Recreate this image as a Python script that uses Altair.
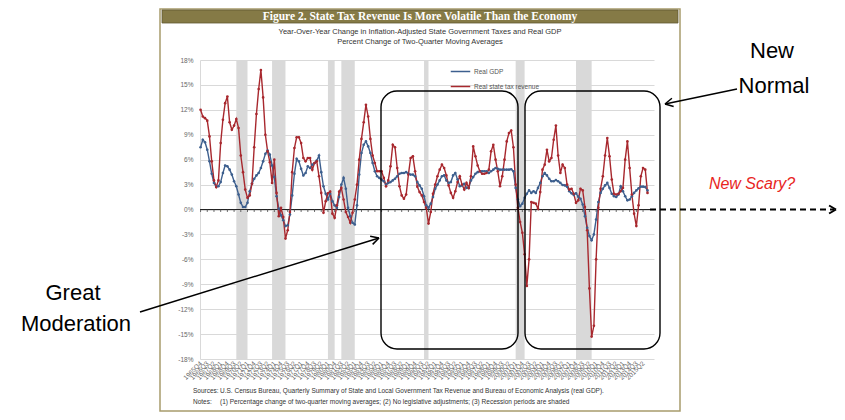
import math
import altair as alt
import pandas as pd

# ---------------- data ----------------
FIRST_YEAR, FIRST_Q = 1965, 4          # first quarter shown: 1965Q4

real_gdp = [
    7.5, 8.4, 8.1, 7.2, 5.8, 4.3, 3.2, 2.75, 2.8, 3.3,
    4.4, 5.3, 5.2, 4.8, 4.2, 3.4, 2.8, 1.8, 0.8, 0.3,
    0.3, 0.8, 2.2, 3.1, 3.7, 4.1, 4.4, 5.0, 5.8, 6.7,
    7.1, 6.6, 5.3, 3.9, 1.6, 0.1, -0.7, -1.3, -2.0, -1.9,
    -0.6, 1.7, 4.3, 6.1, 5.8, 4.9, 4.1, 4.4, 5.2,
    5.0, 5.4, 5.6, 5.9, 6.5, 4.5, 2.8, 1.9, 1.2, 1.9,
    1.0, 0.5, 0.2, 1.5, 3.0, 3.8, 2.5, 0.2, -0.8, -1.6,
    -1.8, 0.5, 4.2, 6.8, 7.8, 8.2, 7.6, 6.8, 5.6, 4.6,
    4.0, 3.8, 3.6, 3.4, 3.0, 3.2, 3.3, 3.5, 3.7, 4.0,
    4.3, 4.4, 4.4, 4.5, 4.3, 4.2, 4.2, 4.0,
    3.3, 2.9, 2.5, 1.6, 0.5, 0.2, 0.7, 1.5, 2.5, 3.0,
    3.5, 4.0, 4.1, 3.5, 3.2, 3.3, 4.1, 4.4, 3.6, 2.8,
    2.9, 3.1, 2.6, 2.6, 3.5, 3.9, 4.3, 4.5, 4.6, 4.6,
    4.6, 4.6, 4.4, 4.6, 4.8, 5.0, 4.9, 4.8, 4.8, 4.8,
    4.8, 4.8, 4.85, 4.6,
    2.6, 1.2, 0.4, 0.7, 1.4, 1.9, 2.3, 2.0, 2.2, 2.0,
    2.6, 3.2, 4.0, 4.4, 4.1, 3.7, 3.4, 3.4, 3.55, 3.4,
    3.2, 2.95, 2.9, 2.75, 2.2, 1.95, 1.75, 1.95, 1.55, 1.3,
    0.6, -0.8, -2.2, -3.2, -3.7, -3.0, -1.2, 0.9, 2.0, 2.5,
    2.9, 3.2, 2.6, 1.9, 1.6, 1.5, 1.8, 2.8, 2.2, 1.6,
    1.1, 1.2, 1.6, 2.0, 2.3, 2.55, 2.75, 2.75, 2.7, 2.3,
]

state_tax = [
    12.0, 11.2, 11.0, 10.7, 8.8, 5.8, 3.5, 2.7, 3.5, 8.0,
    10.8, 12.8, 13.6, 10.5, 9.6, 10.1, 10.9, 9.8, 6.5, 4.5,
    2.4, 1.4, 1.7, 3.1, 7.5, 11.5, 14.5, 16.8, 13.5, 9.0,
    7.0, 5.7, 3.2, 6.0, 2.0, -0.8, 0.2, -0.9, -3.5, -2.5,
    -0.3, 4.5, 7.4, 8.7, 8.7, 8.0, 6.2, 5.8, 6.2,
    6.2, 4.8, 5.6, 5.8, 4.0, 2.0, -0.4, 1.0, 1.95, 2.15,
    -0.5, -1.0, 0.5, 2.15, 2.6, 1.2, -0.3, -0.9, -1.6, -0.4,
    1.2, 3.0, 6.0, 8.5, 10.5, 12.6, 11.2, 8.5, 6.5, 5.6,
    4.6, 4.6, 4.6, 3.8, 2.8, 3.5, 5.2, 7.8, 7.5, 5.0,
    2.8, 1.7, 1.3, 1.8, 4.2, 6.2, 6.4, 4.6,
    2.75, 2.1, 1.7, 0.9, 0.2, -1.7, -0.3, 1.9, 3.0, 4.0,
    4.8, 5.4, 5.0, 4.1, 2.9, 2.0, 1.4, 2.2, 3.3, 4.0,
    3.0, 2.4, 3.2, 2.6, 4.0, 7.6, 6.4, 5.3, 4.6, 4.3,
    4.3, 4.4, 4.8, 7.0, 7.8, 6.0, 4.6, 2.8, 4.0, 6.0,
    8.2, 9.2, 9.5, 7.5,
    3.0, 0.2, -1.5, -2.8, -5.4, -9.2, -6.0, 0.9, 0.8, 0.7,
    0.1, 2.1, 4.8, 5.4, 7.2, 5.8, 6.2, 8.4, 10.1, 6.5,
    4.4, 5.4, 5.0, 3.0, 2.4, 2.5, 1.9, 0.8, 1.1, 2.5,
    2.3, 0.3, -2.5, -9.5, -15.3, -14.0, -6.0, 0.2, 2.5, 4.0,
    6.5, 8.6, 6.4, 3.6, 1.9, 1.8, 1.9, 2.2, 2.6, 6.0,
    8.2, 5.0, 1.8, -0.5, -2.0, 0.5, 4.0, 5.0, 4.8, 2.0,
]

series_names = ["Real GDP", "Real state tax revenue"]
series_colors = ["#3D5F8E", "#A8282E"]

recessions = [("1969Q4", "1970Q4"), ("1973Q4", "1975Q1"), ("1980Q1", "1980Q3"),
              ("1981Q3", "1982Q4"), ("1990Q4", "1991Q1"), ("2001Q1", "2001Q4"),
              ("2007Q4", "2009Q2")]

y_ticks = list(range(-18, 19, 3))
LABEL_STEP = 3

# ---------------- derived tables ----------------
n = len(real_gdp)
quarters = []
yy, qq = FIRST_YEAR, FIRST_Q
for _ in range(n):
    quarters.append(f"{yy}Q{qq}")
    qq += 1
    if qq > 4:
        qq, yy = 1, yy + 1
qidx = {s: i for i, s in enumerate(quarters)}

rows = []
for name, vals in zip(series_names, [real_gdp, state_tax]):
    for i, v in enumerate(vals):
        rows.append({"i": i, "quarter": quarters[i], "series": name, "value": v})
df = pd.DataFrame(rows)

rec_df = pd.DataFrame({"s": [qidx[a] for a, b in recessions],
                       "e": [qidx[b] + 1 for a, b in recessions]})
x_tick_idx = list(range(0, n, LABEL_STEP))
tick_df = pd.DataFrame({"i": x_tick_idx, "v": [0] * len(x_tick_idx)})
zero_df = pd.DataFrame({"v": [0]})
one = pd.DataFrame({"a": [0]})

W, H = 454, 299
x_scale = alt.Scale(domain=[-0.25, 202.9], nice=False, zero=False)
y_scale = alt.Scale(domain=[-18, 18], nice=False)

off = (FIRST_Q - 1)
label_expr = (f"({FIRST_YEAR} + floor((datum.value + {off}) / 4)) + 'Q' + "
              f"((datum.value + {off}) % 4 + 1)")

x_axis = alt.Axis(values=x_tick_idx, labelExpr=label_expr, labelAngle=-45,
                  labelAlign="right", labelBaseline="middle",
                  labelFontSize=6.5, labelColor="#666666", labelFont="Liberation Sans",
                  grid=False, ticks=False, domain=False, labelPadding=3,
                  labelOverlap=False, labelBound=False, labelFlush=False, title=None)
y_axis = alt.Axis(values=y_ticks, labelExpr="datum.value + '%'", grid=True,
                  gridColor="#D9D9D9", gridWidth=1, domainColor="#D9D9D9",
                  ticks=False, labelFontSize=6.5, labelColor="#666666",
                  labelFont="Liberation Sans", labelPadding=7, title=None,
                  labelOverlap=False, labelFlush=False, labelBound=False)

# ---------------- annotation helpers (pixel positions) ----------------
def seg(x1, y1, x2, y2, color="black", width=1.5, dash=None):
    kw = dict(color=color, strokeWidth=width)
    if dash:
        kw["strokeDash"] = dash
    return alt.Chart(one).mark_rule(**kw).encode(
        x=alt.value(x1), y=alt.value(y1), x2=alt.value(x2), y2=alt.value(y2))

def arrow_head(x0, y0, x1, y1, length=9, angle=28, color="black", width=1.5):
    dx, dy = x1 - x0, y1 - y0
    L = math.hypot(dx, dy)
    bx, by = -dx / L, -dy / L
    out = []
    for sgn in (1, -1):
        a = math.radians(angle) * sgn
        rx = bx * math.cos(a) - by * math.sin(a)
        ry = bx * math.sin(a) + by * math.cos(a)
        out.append(seg(x1, y1, x1 + rx * length, y1 + ry * length, color, width))
    return out

def label(txt, x, y, size, color="black", font="Liberation Sans", weight="normal",
          style="normal", align="center", baseline="middle"):
    return alt.Chart(one).mark_text(text=txt, fontSize=size, color=color, font=font,
                                    fontWeight=weight, fontStyle=style, align=align,
                                    baseline=baseline).encode(
        x=alt.value(x), y=alt.value(y))

def box(x1, y1, x2, y2, stroke="black", width=1.4, radius=0, fill=None):
    kw = dict(stroke=stroke, strokeWidth=width, cornerRadius=radius)
    if fill:
        kw["fill"] = fill
    else:
        kw["fillOpacity"] = 0
    return alt.Chart(one).mark_rect(**kw).encode(
        x=alt.value(x1), y=alt.value(y1), x2=alt.value(x2), y2=alt.value(y2))

# ---------------- layers ----------------
frame = box(-40, -51, 480, 351, stroke="#A89C6C", width=1.5)
title_bar = box(-38, -50, 478, -37, stroke="#5F5830", width=0.8, fill="#857A46")
title_txt = label("Figure 2. State Tax Revenue Is More Volatile Than the Economy",
                  220, -43.5, 11.5, color="white", font="Liberation Serif", weight="bold")
sub1 = label("Year-Over-Year Change in Inflation-Adjusted State Government Taxes and Real GDP",
             220, -28, 7.5, color="#333333")
sub2 = label("Percent Change of Two-Quarter Moving Averages", 220, -18, 7.5, color="#333333")

rec = alt.Chart(rec_df).mark_rect(color="#D9D9D9").encode(
    x=alt.X("s:Q", scale=x_scale, axis=x_axis), x2="e:Q",
    y=alt.value(0), y2=alt.value(H))

zero_rule = alt.Chart(zero_df).mark_rule(color="#222222", strokeWidth=1.2).encode(
    y=alt.Y("v:Q", scale=y_scale, axis=y_axis))
zero_ticks = alt.Chart(tick_df).mark_tick(orient="vertical", size=3, thickness=1,
                                          color="#333333", yOffset=1).encode(
    x=alt.X("i:Q", scale=x_scale, axis=x_axis),
    y=alt.Y("v:Q", scale=y_scale, axis=y_axis))

lines = alt.Chart(df).mark_line(
    strokeWidth=1.4,
    point=alt.OverlayMarkDef(size=7, filled=True, opacity=1)).encode(
    x=alt.X("i:Q", scale=x_scale, axis=x_axis),
    y=alt.Y("value:Q", scale=y_scale, axis=y_axis),
    color=alt.Color("series:N",
                    scale=alt.Scale(domain=series_names, range=series_colors),
                    legend=alt.Legend(orient="none", legendX=250, legendY=1, title=None,
                                      symbolType="stroke", symbolStrokeWidth=1.5,
                                      symbolSize=380, labelFontSize=6.5,
                                      labelColor="#555555", labelFont="Liberation Sans",
                                      rowPadding=1, labelOffset=3)),
    order="i:Q")

sources = label("Sources:", -7, 331, 6.5, color="#333333", align="left")
sources2 = label("U.S. Census Bureau, Quarterly Summary of State and Local Government Tax "
                 "Revenue and Bureau of Economic Analysis (real GDP).", 20, 331, 6.5,
                 color="#333333", align="left")
notes = label("Notes:", -7, 342, 6.5, color="#333333", align="left")
notes2 = label("(1) Percentage change of two-quarter moving averages; (2) No legislative "
               "adjustments; (3) Recession periods are shaded", 20, 342, 6.5,
               color="#333333", align="left")

box1 = box(181, 31, 318, 289, radius=16)
box2 = box(325, 31, 460, 289, radius=16)

new_txt = label("New", 572, -9, 22)
normal_txt = label("Normal", 574, 26, 22)
nn_arrow = [seg(537, 29, 465, 44, width=1.5)] + arrow_head(537, 29, 465, 44)

scary = label("New Scary?", 552, 124, 16, color="#E8251E", style="italic")
dash_arrow = seg(450, 149.5, 634, 149.5, width=2, dash=[6, 4])
dash_head = arrow_head(450, 149.5, 636, 149.5, length=8, angle=30, width=2)

great = label("Great", -127, 233, 22)
moder = label("Moderation", -124, 264, 22)
gm_arrow = [seg(-60, 252, 179, 178, width=1.5)] + arrow_head(-60, 252, 179, 178)

layers = [frame, title_bar, title_txt, sub1, sub2, rec, zero_rule, zero_ticks, lines,
          sources, sources2, notes, notes2, box1, box2, new_txt, normal_txt, scary,
          dash_arrow, great, moder] + nn_arrow + dash_head + gm_arrow

chart = alt.layer(*layers).properties(
    width=W, height=H,
    autosize=alt.AutoSizeParams(type="none"),
    padding={"left": 192, "top": 52, "right": 183, "bottom": 53},
).configure_view(strokeWidth=0)

chart.save("out.html", embed_options={"renderer": "svg", "actions": False})
